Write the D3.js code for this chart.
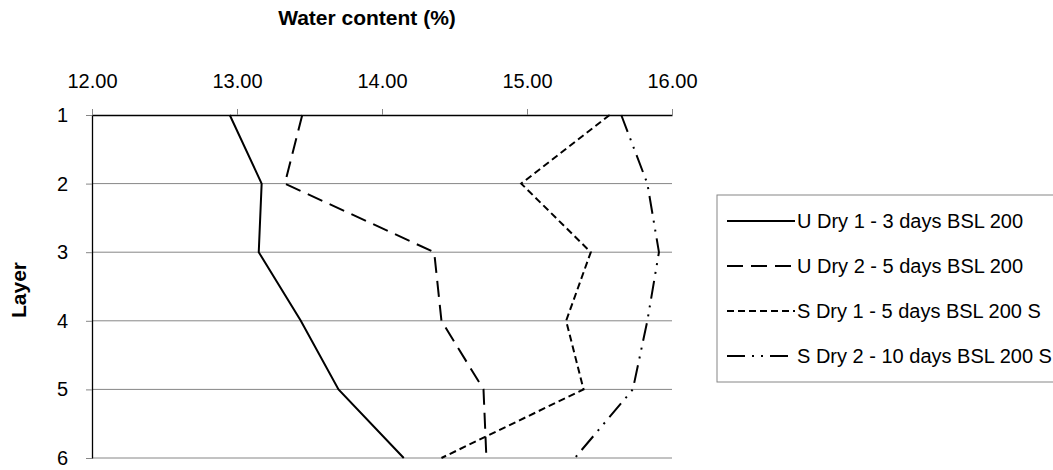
<!DOCTYPE html>
<html>
<head>
<meta charset="utf-8">
<script src="https://cdn.jsdelivr.net/npm/d3@7"></script>
<style>
  body { margin: 0; background: #fff; }
  svg { font-family: "Liberation Sans", Arial, sans-serif; }
</style>
</head>
<body>
<div id="chart"></div>
<script>
// layers (y) and water content (x) per series
var layers = [1, 2, 3, 4, 5, 6];
var xTicks = [12, 13, 14, 15, 16];
var seriesNames = ["U Dry 1 - 3 days BSL 200", "U Dry 2 - 5 days BSL 200", "S Dry 1 - 5 days BSL 200 S", "S Dry 2 - 10 days BSL 200 S"];
var uDry1 = [12.95, 13.17, 13.15, 13.44, 13.70, 14.15];
var uDry2 = [13.45, 13.33, 14.36, 14.41, 14.70, 14.72];
var sDry1 = [15.57, 14.96, 15.44, 15.27, 15.39, 14.41];
var sDry2 = [15.65, 15.83, 15.91, 15.83, 15.73, 15.33];

const width = 1053, height = 470;
const dashes = [null, "16,8", "7,4", "18,7,2,7,2,7"];
const allSeries = [uDry1, uDry2, sDry1, sDry2];

const svg = d3.select("#chart").append("svg")
    .attr("width", width)
    .attr("height", height);

const x = d3.scaleLinear().domain([12, 16]).range([92, 672]);
const y = d3.scaleLinear().domain([1, 6]).range([115, 458]);

// gridlines
svg.append("g")
    .selectAll("line")
    .data(layers.slice(1))
    .enter().append("line")
    .attr("x1", x(12)).attr("x2", x(16))
    .attr("y1", d => y(d)).attr("y2", d => y(d))
    .attr("stroke", "#868686")
    .attr("stroke-width", 1);

// top axis
const xAxis = svg.append("g")
    .attr("transform", "translate(0," + y(1) + ")")
    .call(d3.axisTop(x).tickValues(xTicks).tickFormat(d3.format(".2f")).tickSize(6).tickSizeOuter(0).tickPadding(21));

// left axis
const yAxis = svg.append("g")
    .attr("transform", "translate(" + x(12) + ",0)")
    .call(d3.axisLeft(y).tickValues(layers).tickFormat(d3.format("d")).tickSize(6).tickSizeOuter(0).tickPadding(18));

[xAxis, yAxis].forEach(function(a) {
    a.select(".domain").attr("stroke", "#000").attr("stroke-width", 1.3);
    a.selectAll(".tick line").attr("stroke", "#868686");
    a.selectAll("text").attr("font-size", 20).attr("fill", "#000").attr("font-family", "Liberation Sans, Arial, sans-serif");
});

// series lines
const line = d3.line()
    .x(d => x(d.v))
    .y(d => y(d.layer));

allSeries.forEach(function(s, i) {
    svg.append("path")
        .datum(s.map((v, j) => ({ v: v, layer: layers[j] })))
        .attr("d", line)
        .attr("fill", "none")
        .attr("stroke", "#000")
        .attr("stroke-width", 2)
        .attr("stroke-dasharray", dashes[i]);
});

// titles
svg.append("text")
    .attr("x", 367).attr("y", 25)
    .attr("text-anchor", "middle")
    .attr("font-size", 21).attr("font-weight", "bold")
    .text("Water content (%)");

svg.append("text")
    .attr("transform", "translate(26,290) rotate(-90)")
    .attr("text-anchor", "middle")
    .attr("font-size", 21).attr("font-weight", "bold")
    .text("Layer");

// legend
const legend = svg.append("g");
legend.append("rect")
    .attr("x", 717).attr("y", 195)
    .attr("width", 360).attr("height", 187)
    .attr("fill", "none")
    .attr("stroke", "#868686");

const items = legend.selectAll(".item")
    .data(seriesNames)
    .enter().append("g")
    .attr("transform", (d, i) => "translate(727," + (221 + i * 45) + ")");

items.append("line")
    .attr("x1", 0).attr("x2", 68)
    .attr("stroke", "#000")
    .attr("stroke-width", 2)
    .attr("stroke-dasharray", (d, i) => dashes[i]);

items.append("text")
    .attr("x", 70).attr("dy", "0.35em")
    .attr("font-size", 20)
    .text(d => d);
</script>
</body>
</html>
